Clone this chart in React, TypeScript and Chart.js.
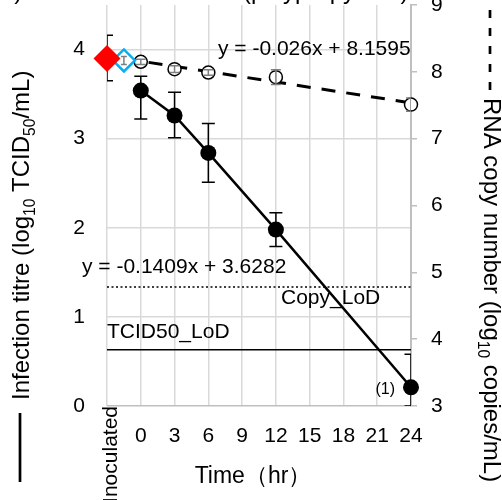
import React, { useEffect, useRef } from 'react';
import { Chart, registerables } from 'chart.js';

Chart.register(...registerables);

const FONT = '"Liberation Sans", Arial, sans-serif';

// ---------- data ----------
const timeHours = [0, 3, 6, 12, 24];
const titreMean = [3.54, 3.26, 2.84, 1.98, 0.21];
const titreHigh = [3.7, 3.52, 3.17, 2.17, 0.58];
const titreLow = [3.22, 3.01, 2.51, 1.79, 0.0];

const rnaMean = [8.15, 8.04, 7.99, 7.92, 7.51];
const rnaHigh = [8.19, 8.09, 8.03, 8.03, 7.61];
const rnaLow = [8.11, 7.99, 7.95, 7.81, 7.41];

const inoculatedTime = [-3];
const inoculatedTitre = [3.9];
const inoculatedTitreHigh = [4.16];
const inoculatedTitreLow = [3.65];

const inoculatedRnaTime = [-1.5];
const inoculatedRna = [8.17];
const inoculatedRnaHigh = [8.23];
const inoculatedRnaLow = [8.11];

const rnaTrendSlope = -0.026;
const rnaTrendIntercept = 8.1595;
const rnaTrendRange = [-1.5, 24];

const tcidLoD = 0.63;
const copyLoD = 4.78;

const xTickValues = [-3, 0, 3, 6, 9, 12, 15, 18, 21, 24];
const xTickLabels = ['Inoculated', '0', '3', '6', '9', '12', '15', '18', '21', '24'];

const titreTrendLabel = 'y = -0.1409x + 3.6282';
const rnaTrendLabel = 'y = -0.026x + 8.1595';
const tcidLoDLabel = 'TCID50_LoD';
const copyLoDLabel = 'Copy_LoD';
const nLabel = '(1)';
const xTitle = 'Time（hr）';
const leftTitle: [string, boolean][] = [
  ['Infection titre (log', false],
  ['10', true],
  [' TCID', false],
  ['50', true],
  ['/mL)', false],
];
const rightTitle: [string, boolean][] = [
  ['RNA copy number (log', false],
  ['10', true],
  [' copies/mL)', false],
];
const topTitleLeft = 'b)';
const topTitleRight = '(polypropylene)';

// ---------- helpers ----------
const pts = (xs: number[], ys: number[]) => xs.map((x, i) => ({ x, y: ys[i] }));

function drawRich(ctx: CanvasRenderingContext2D, parts: [string, boolean][], x: number, y: number, size: number) {
  let cx = x;
  for (const [t, sub] of parts) {
    const fs = sub ? size * 0.65 : size;
    ctx.font = `${fs}px ${FONT}`;
    const dy = sub ? size * 0.25 : 0;
    ctx.fillText(t, cx, y + dy);
    cx += ctx.measureText(t).width;
  }
}

const noPadding = () => ({ left: 0, top: 0, right: 0, bottom: 0 });

const errorBarPlugin = {
  id: 'errorBars',
  _draw(chart: any, layer: string) {
    const ctx = chart.ctx as CanvasRenderingContext2D;
    const area = chart.chartArea;
    ctx.save();
    ctx.beginPath();
    ctx.rect(area.left, area.top - 40, area.right - area.left, area.bottom - area.top + 40);
    ctx.clip();
    chart.data.datasets.forEach((ds: any, di: number) => {
      if (!ds.errHigh || ds.errLayer !== layer) return;
      const meta = chart.getDatasetMeta(di);
      const ys = chart.scales[meta.yAxisID];
      ctx.strokeStyle = ds.errColor;
      ctx.lineWidth = ds.errWidth;
      meta.data.forEach((el: any, i: number) => {
        const x = el.x;
        const yh = ys.getPixelForValue(ds.errHigh[i]);
        const yl = ys.getPixelForValue(ds.errLow[i]);
        const c = ds.errCap;
        ctx.beginPath();
        ctx.moveTo(x, yh);
        ctx.lineTo(x, yl);
        ctx.moveTo(x - c, yh);
        ctx.lineTo(x + c, yh);
        ctx.moveTo(x - c, yl);
        ctx.lineTo(x + c, yl);
        ctx.stroke();
      });
    });
    ctx.restore();
  },
  beforeDatasetsDraw(chart: any) {
    (this as any)._draw(chart, 'below');
  },
  afterDatasetsDraw(chart: any) {
    (this as any)._draw(chart, 'above');
  },
};

const textPlugin = {
  id: 'texts',
  afterDraw(chart: any) {
    const ctx = chart.ctx as CanvasRenderingContext2D;
    ctx.save();
    ctx.fillStyle = '#000';
    ctx.textBaseline = 'alphabetic';

    // equations and labels
    ctx.font = `21px ${FONT}`;
    ctx.textAlign = 'left';
    ctx.fillText(rnaTrendLabel, 218, 55);
    ctx.fillText(titreTrendLabel, 82, 273);
    ctx.fillText(tcidLoDLabel, 107, 338);
    ctx.fillText(copyLoDLabel, 281, 304);

    ctx.font = `16px ${FONT}`;
    ctx.textAlign = 'right';
    ctx.fillText(nLabel, 395, 394);

    // top (cropped) title
    ctx.font = `24px ${FONT}`;
    ctx.textAlign = 'left';
    ctx.fillText(topTitleLeft, 1, -1.5);
    ctx.fillText(topTitleRight, 243, -1.5);

    // x axis title
    ctx.font = `23px ${FONT}`;
    ctx.textAlign = 'center';
    ctx.fillText(xTitle, 253, 483);

    // "Inoculated" category label (vertical)
    const xs = chart.scales.x;
    ctx.save();
    ctx.translate(xs.getPixelForValue(xTickValues[0]) + 10, 406);
    ctx.rotate(-Math.PI / 2);
    ctx.font = `21px ${FONT}`;
    ctx.textAlign = 'right';
    ctx.fillText(xTickLabels[0], 0, 0);
    ctx.restore();

    // left axis title with solid line sample
    ctx.save();
    ctx.translate(29, 400);
    ctx.rotate(-Math.PI / 2);
    ctx.textAlign = 'left';
    drawRich(ctx, leftTitle, 0, 0, 24);
    ctx.restore();
    ctx.strokeStyle = '#000';
    ctx.lineWidth = 2.7;
    ctx.beginPath();
    ctx.moveTo(20, 413);
    ctx.lineTo(20, 482);
    ctx.stroke();

    // right axis title with dashed line sample
    ctx.save();
    ctx.translate(484, 98);
    ctx.rotate(Math.PI / 2);
    ctx.textAlign = 'left';
    drawRich(ctx, rightTitle, 0, 0, 24);
    ctx.restore();
    ctx.setLineDash([8, 10]);
    ctx.lineWidth = 2.7;
    ctx.beginPath();
    ctx.moveTo(490, 10);
    ctx.lineTo(490, 96);
    ctx.stroke();
    ctx.setLineDash([]);

    ctx.restore();
  },
};

export default function App() {
  const ref = useRef<HTMLCanvasElement>(null);
  useEffect(() => {
    document.body.style.margin = '0';
    const canvas = ref.current!;
    const trendData = rnaTrendRange.map((x) => ({ x, y: rnaTrendSlope * x + rnaTrendIntercept }));
    const chart = new Chart(canvas, {
      type: 'scatter',
      data: {
        datasets: [
          {
            label: 'Inoculated titre',
            data: pts(inoculatedTime, inoculatedTitre),
            yAxisID: 'y',
            pointStyle: 'rectRot',
            pointRadius: 13.5,
            pointBackgroundColor: '#ff0000',
            pointBorderColor: '#ff0000',
            pointBorderWidth: 0,
            showLine: false,
            clip: false,
            order: 0,
            errHigh: inoculatedTitreHigh,
            errLow: inoculatedTitreLow,
            errColor: '#000',
            errWidth: 1.5,
            errCap: 6,
            errLayer: 'below',
          } as any,
          {
            label: 'Inoculated RNA',
            data: pts(inoculatedRnaTime, inoculatedRna),
            yAxisID: 'y2',
            pointStyle: 'rectRot',
            pointRadius: 11,
            pointBackgroundColor: '#ffffff',
            pointBorderColor: '#00b0f0',
            pointBorderWidth: 2.5,
            showLine: false,
            clip: false,
            order: 1,
            errHigh: inoculatedRnaHigh,
            errLow: inoculatedRnaLow,
            errColor: '#7f7f7f',
            errWidth: 1.5,
            errCap: 3,
            errLayer: 'above',
          } as any,
          {
            label: 'Infection titre',
            data: pts(timeHours, titreMean),
            yAxisID: 'y',
            showLine: true,
            borderColor: '#000',
            borderWidth: 2.5,
            pointStyle: 'circle',
            pointRadius: 8,
            pointBackgroundColor: '#000',
            pointBorderColor: '#000',
            pointBorderWidth: 0,
            order: 2,
            clip: false,
            errHigh: titreHigh,
            errLow: titreLow,
            errColor: '#000',
            errWidth: 1.5,
            errCap: 6.5,
            errLayer: 'below',
          } as any,
          {
            label: 'RNA copy number',
            data: pts(timeHours, rnaMean),
            yAxisID: 'y2',
            showLine: false,
            pointStyle: 'circle',
            pointRadius: 6.5,
            pointBackgroundColor: '#ffffff',
            pointBorderColor: '#000',
            pointBorderWidth: 1.5,
            order: 3,
            clip: false,
            errHigh: rnaHigh,
            errLow: rnaLow,
            errColor: '#7f7f7f',
            errWidth: 1.5,
            errCap: 5,
            errLayer: 'above',
          } as any,
          {
            label: 'RNA trend',
            data: trendData,
            yAxisID: 'y2',
            showLine: true,
            borderColor: '#000',
            borderWidth: 3,
            borderDash: [14, 11],
            pointRadius: 0,
            order: 4,
          } as any,
          {
            label: 'TCID50_LoD',
            data: [
              { x: -3, y: tcidLoD },
              { x: 24, y: tcidLoD },
            ],
            yAxisID: 'y',
            showLine: true,
            borderColor: '#000',
            borderWidth: 1.5,
            pointRadius: 0,
            order: 5,
          } as any,
          {
            label: 'Copy_LoD',
            data: [
              { x: -3, y: copyLoD },
              { x: 24, y: copyLoD },
            ],
            yAxisID: 'y2',
            showLine: true,
            borderColor: '#000',
            borderWidth: 1.5,
            borderDash: [2, 2.5],
            pointRadius: 0,
            order: 6,
          } as any,
        ],
      },
      options: {
        responsive: false,
        animation: false,
        events: [],
        layout: { autoPadding: false, padding: { top: 5, left: 0, right: 0, bottom: 0 } },
        plugins: { legend: { display: false }, tooltip: { enabled: false } },
        scales: {
          x: {
            type: 'linear',
            min: -3,
            max: 24,
            afterBuildTicks: (s: any) => {
              s.ticks = xTickValues.map((v) => ({ value: v }));
            },
            ticks: {
              stepSize: 3,
              autoSkip: false,
              maxRotation: 0,
              padding: 18,
              color: '#000',
              font: { size: 21, family: FONT },
              callback: (v: any) => {
                const i = xTickValues.indexOf(Number(v));
                return i <= 0 ? '' : xTickLabels[i];
              },
            },
            grid: { color: '#d9d9d9', lineWidth: 1.5, drawTicks: false },
            border: { display: false },
            afterFit: (s: any) => {
              s.height = 94;
              s.paddingLeft = 0;
              s.paddingRight = 0;
              s.getPadding = noPadding;
            },
          },
          y: {
            type: 'linear',
            position: 'left',
            min: 0,
            max: 4.5,
            afterBuildTicks: (s: any) => {
              s.ticks = s.ticks.filter((t: any) => Number.isInteger(t.value));
            },
            ticks: {
              stepSize: 1,
              padding: 22,
              color: '#000',
              font: { size: 21, family: FONT },
            },
            grid: {
              color: (c: any) => (c.tick && c.tick.value === 0 ? '#bfbfbf' : '#d9d9d9'),
              lineWidth: 1.5,
              drawTicks: false,
            },
            border: { display: false },
            afterFit: (s: any) => {
              s.width = 107;
              s.paddingTop = 0;
              s.paddingBottom = 0;
              s.getPadding = noPadding;
            },
          },
          y2: {
            type: 'linear',
            position: 'right',
            min: 3,
            max: 9,
            ticks: {
              stepSize: 1,
              padding: 14,
              color: '#000',
              font: { size: 21, family: FONT },
            },
            grid: {
              drawOnChartArea: false,
              drawTicks: true,
              tickLength: 6,
              color: '#bfbfbf',
              lineWidth: 1.5,
            },
            border: { display: true, color: '#bfbfbf', width: 2 },
            afterFit: (s: any) => {
              s.width = 91;
              s.paddingTop = 0;
              s.paddingBottom = 0;
              s.getPadding = noPadding;
            },
          },
        },
      } as any,
      plugins: [errorBarPlugin as any, textPlugin as any],
    });
    return () => chart.destroy();
  }, []);
  return (
    <div style={{ width: 502, height: 500 }}>
      <canvas ref={ref} width={502} height={500} style={{ display: 'block' }} />
    </div>
  );
}
